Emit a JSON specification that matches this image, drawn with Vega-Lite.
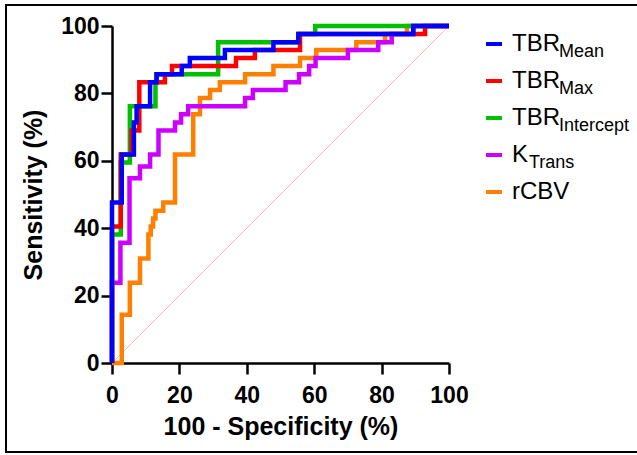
{
  "$schema": "https://vega.github.io/schema/vega-lite/v6.json",
  "width": 337,
  "height": 337,
  "autosize": "none",
  "padding": {"left": 112, "top": 26, "right": 188, "bottom": 92},
  "background": "white",
  "config": {
    "view": {"stroke": null},
    "font": "Liberation Sans",
    "axis": {
      "grid": false,
      "domainColor": "black",
      "domainWidth": 2.5,
      "tickColor": "black",
      "tickWidth": 2.5,
      "tickSize": 11,
      "labelFont": "Liberation Sans",
      "labelFontWeight": "bold",
      "labelFontSize": 23,
      "labelColor": "black",
      "labelFlush": false,
      "labelOverlap": false,
      "titleFont": "Liberation Sans",
      "titleFontWeight": "bold",
      "titleFontSize": 25,
      "titleColor": "black"
    },
    "axisX": {"labelPadding": 10, "titlePadding": 7},
    "axisY": {"labelPadding": 2, "titlePadding": 14}
  },
  "datasets": {
    "roc": [
      {"s": "TBRMean", "x": 0, "y": 0},
      {"s": "TBRMean", "x": 0, "y": 47.6},
      {"s": "TBRMean", "x": 2.9, "y": 61.9},
      {"s": "TBRMean", "x": 6.5, "y": 71.4},
      {"s": "TBRMean", "x": 7.3, "y": 76.2},
      {"s": "TBRMean", "x": 11.3, "y": 83.3},
      {"s": "TBRMean", "x": 13.2, "y": 85.7},
      {"s": "TBRMean", "x": 20.7, "y": 88.1},
      {"s": "TBRMean", "x": 23.1, "y": 90.5},
      {"s": "TBRMean", "x": 33.5, "y": 92.9},
      {"s": "TBRMean", "x": 47.9, "y": 95.2},
      {"s": "TBRMean", "x": 55.3, "y": 97.6},
      {"s": "TBRMean", "x": 89.4, "y": 100},
      {"s": "TBRMean", "x": 100, "y": 100},
      {"s": "TBRMax", "x": 0, "y": 0},
      {"s": "TBRMax", "x": 0, "y": 40.5},
      {"s": "TBRMax", "x": 2.6, "y": 61.9},
      {"s": "TBRMax", "x": 5.8, "y": 69.0},
      {"s": "TBRMax", "x": 8.1, "y": 83.3},
      {"s": "TBRMax", "x": 15.7, "y": 85.7},
      {"s": "TBRMax", "x": 17.8, "y": 88.1},
      {"s": "TBRMax", "x": 36.8, "y": 90.5},
      {"s": "TBRMax", "x": 42.4, "y": 92.9},
      {"s": "TBRMax", "x": 55.8, "y": 97.6},
      {"s": "TBRMax", "x": 92.9, "y": 100},
      {"s": "TBRMax", "x": 100, "y": 100},
      {"s": "TBRIntercept", "x": 0, "y": 0},
      {"s": "TBRIntercept", "x": 0, "y": 38.1},
      {"s": "TBRIntercept", "x": 2.6, "y": 59.5},
      {"s": "TBRIntercept", "x": 5.3, "y": 76.2},
      {"s": "TBRIntercept", "x": 12.9, "y": 83.3},
      {"s": "TBRIntercept", "x": 13.3, "y": 85.7},
      {"s": "TBRIntercept", "x": 31.5, "y": 95.2},
      {"s": "TBRIntercept", "x": 55.3, "y": 97.6},
      {"s": "TBRIntercept", "x": 60.3, "y": 100},
      {"s": "TBRIntercept", "x": 100, "y": 100},
      {"s": "KTrans", "x": 0, "y": 0},
      {"s": "KTrans", "x": 0, "y": 23.8},
      {"s": "KTrans", "x": 2.5, "y": 35.7},
      {"s": "KTrans", "x": 5.2, "y": 54.8},
      {"s": "KTrans", "x": 8.3, "y": 58.3},
      {"s": "KTrans", "x": 11.3, "y": 61.9},
      {"s": "KTrans", "x": 13.8, "y": 69.0},
      {"s": "KTrans", "x": 18.7, "y": 71.4},
      {"s": "KTrans", "x": 20.5, "y": 73.8},
      {"s": "KTrans", "x": 22.6, "y": 76.2},
      {"s": "KTrans", "x": 39.5, "y": 78.6},
      {"s": "KTrans", "x": 41.8, "y": 81.0},
      {"s": "KTrans", "x": 51.5, "y": 83.3},
      {"s": "KTrans", "x": 55.5, "y": 85.7},
      {"s": "KTrans", "x": 58.5, "y": 88.1},
      {"s": "KTrans", "x": 60.4, "y": 90.5},
      {"s": "KTrans", "x": 70.0, "y": 92.9},
      {"s": "KTrans", "x": 79.0, "y": 95.2},
      {"s": "KTrans", "x": 83.0, "y": 97.6},
      {"s": "KTrans", "x": 89.4, "y": 100},
      {"s": "KTrans", "x": 100, "y": 100},
      {"s": "rCBV", "x": 0, "y": 0},
      {"s": "rCBV", "x": 2.9, "y": 14.3},
      {"s": "rCBV", "x": 5.3, "y": 23.8},
      {"s": "rCBV", "x": 8.3, "y": 31.0},
      {"s": "rCBV", "x": 10.8, "y": 38.1},
      {"s": "rCBV", "x": 11.5, "y": 40.5},
      {"s": "rCBV", "x": 12.2, "y": 42.9},
      {"s": "rCBV", "x": 12.9, "y": 45.2},
      {"s": "rCBV", "x": 15.2, "y": 47.6},
      {"s": "rCBV", "x": 18.7, "y": 61.9},
      {"s": "rCBV", "x": 24.1, "y": 73.8},
      {"s": "rCBV", "x": 26.1, "y": 78.6},
      {"s": "rCBV", "x": 29.1, "y": 81.0},
      {"s": "rCBV", "x": 32.0, "y": 83.3},
      {"s": "rCBV", "x": 39.5, "y": 85.7},
      {"s": "rCBV", "x": 47.9, "y": 88.1},
      {"s": "rCBV", "x": 55.8, "y": 90.5},
      {"s": "rCBV", "x": 60.6, "y": 92.9},
      {"s": "rCBV", "x": 72.5, "y": 95.2},
      {"s": "rCBV", "x": 81.0, "y": 97.6},
      {"s": "rCBV", "x": 87.5, "y": 100},
      {"s": "rCBV", "x": 100, "y": 100}
    ],
    "names": [
      {"s": "TBRMean", "sub": "Mean"},
      {"s": "TBRMax", "sub": "Max"},
      {"s": "TBRIntercept", "sub": "Intercept"},
      {"s": "KTrans", "sub": "Trans"},
      {"s": "rCBV", "sub": "none"}
    ],
    "chance": [
      {"x": 0, "y": 0},
      {"x": 100, "y": 100}
    ]
  },
  "layer": [
    {
      "data": {"values": [{}]},
      "mark": {"type": "rect", "filled": false, "stroke": "black", "strokeWidth": 2},
      "encoding": {
        "x": {"datum": -31.45, "type": "quantitative", "scale": {"domain": [0, 100], "nice": false, "zero": false}, "title": "100 - Specificity (%)"},
        "x2": {"datum": 160},
        "y": {"datum": 106.2, "type": "quantitative", "scale": {"domain": [0, 100], "nice": false, "zero": false}, "title": "Sensitivity (%)"},
        "y2": {"datum": -26.4}
      }
    },
    {
      "data": {"name": "chance"},
      "mark": {"type": "line", "color": "#ffb8b8", "strokeWidth": 1},
      "encoding": {
        "x": {"field": "x", "type": "quantitative", "title": "100 - Specificity (%)"},
        "y": {"field": "y", "type": "quantitative", "title": "Sensitivity (%)"}
      }
    },
    {
      "data": {"name": "names"},
      "transform": [{"filter": "datum.s == 'KTrans'"}],
      "mark": {"type": "point", "opacity": 0},
      "encoding": {
        "shape": {
          "field": "sub", "type": "nominal",
          "legend": {"title": null, "orient": "none", "legendX": 399, "legendY": 128, "symbolSize": 256, "symbolOpacity": 0, "symbolStrokeWidth": 0, "labelFont": "Liberation Sans", "labelFontSize": 18, "labelColor": "black", "labelOffset": 0, "labelLimit": 300}
        }
      }
    },
    {
      "data": {"name": "roc"},
      "transform": [
        {"filter": "datum.s == 'rCBV'"},
        {"lookup": "s", "from": {"data": {"name": "names"}, "key": "s", "fields": ["sub"]}}
      ],
      "mark": {"type": "line", "interpolate": "step-after", "strokeWidth": 4.5, "strokeCap": "butt", "strokeJoin": "miter"},
      "encoding": {
        "x": {"field": "x", "type": "quantitative", "scale": {"domain": [0, 100], "nice": false, "zero": false}, "axis": {"values": [0, 20, 40, 60, 80, 100]}, "title": "100 - Specificity (%)"},
        "y": {"field": "y", "type": "quantitative", "scale": {"domain": [0, 100], "nice": false, "zero": false}, "axis": {"values": [0, 20, 40, 60, 80, 100]}, "title": "Sensitivity (%)"},
        "order": [{"field": "x", "type": "quantitative"}, {"field": "y", "type": "quantitative"}],
        "color": {
          "field": "s", "type": "nominal",
          "scale": {"domain": ["TBRMean", "TBRMax", "TBRIntercept", "KTrans", "rCBV"], "range": ["#0000ff", "#ff0000", "#00c000", "#cc00ff", "#ff8000"]},
          "legend": {"title": null, "orient": "none", "legendX": 370, "legendY": 6, "symbolType": "stroke", "symbolSize": 256, "symbolStrokeWidth": 4, "labelFont": "Liberation Sans", "labelFontSize": 24, "labelColor": "black", "labelOffset": 6, "rowPadding": 13, "labelLimit": 300,
            "labelExpr": "datum.label == 'KTrans' ? 'K' : (datum.label == 'rCBV' ? 'rCBV' : 'TBR')"}
        },
        "strokeDash": {
          "field": "sub", "type": "nominal",
          "scale": {"domain": ["Mean", "Max", "Intercept", "Trans", "none"], "range": [[1, 0], [1, 0], [1, 0], [1, 0], [1, 0]]},
          "legend": {"title": null, "orient": "none", "legendX": 429, "legendY": 17, "symbolType": "stroke", "symbolSize": 256, "symbolOpacity": 0, "labelFont": "Liberation Sans", "labelFontSize": 18, "labelColor": "black", "labelOffset": 0, "rowPadding": 19, "labelLimit": 300,
            "labelExpr": "(datum.label == 'none' || datum.label == 'Trans') ? '' : datum.label"}
        }
      }
    },
    {
      "data": {"name": "roc"},
      "transform": [
        {"filter": "datum.s == 'KTrans'"},
        {"lookup": "s", "from": {"data": {"name": "names"}, "key": "s", "fields": ["sub"]}}
      ],
      "mark": {"type": "line", "interpolate": "step-after", "strokeWidth": 4.5, "strokeCap": "butt", "strokeJoin": "miter"},
      "encoding": {
        "x": {"field": "x", "type": "quantitative", "title": "100 - Specificity (%)"},
        "y": {"field": "y", "type": "quantitative", "title": "Sensitivity (%)"},
        "order": [{"field": "x", "type": "quantitative"}, {"field": "y", "type": "quantitative"}],
        "color": {"field": "s", "type": "nominal"},
        "strokeDash": {"field": "sub", "type": "nominal"}
      }
    },
    {
      "data": {"name": "roc"},
      "transform": [
        {"filter": "datum.s == 'TBRIntercept'"},
        {"lookup": "s", "from": {"data": {"name": "names"}, "key": "s", "fields": ["sub"]}}
      ],
      "mark": {"type": "line", "interpolate": "step-after", "strokeWidth": 4.5, "strokeCap": "butt", "strokeJoin": "miter"},
      "encoding": {
        "x": {"field": "x", "type": "quantitative", "title": "100 - Specificity (%)"},
        "y": {"field": "y", "type": "quantitative", "title": "Sensitivity (%)"},
        "order": [{"field": "x", "type": "quantitative"}, {"field": "y", "type": "quantitative"}],
        "color": {"field": "s", "type": "nominal"},
        "strokeDash": {"field": "sub", "type": "nominal"}
      }
    },
    {
      "data": {"name": "roc"},
      "transform": [
        {"filter": "datum.s == 'TBRMax'"},
        {"lookup": "s", "from": {"data": {"name": "names"}, "key": "s", "fields": ["sub"]}}
      ],
      "mark": {"type": "line", "interpolate": "step-after", "strokeWidth": 4.5, "strokeCap": "butt", "strokeJoin": "miter"},
      "encoding": {
        "x": {"field": "x", "type": "quantitative", "title": "100 - Specificity (%)"},
        "y": {"field": "y", "type": "quantitative", "title": "Sensitivity (%)"},
        "order": [{"field": "x", "type": "quantitative"}, {"field": "y", "type": "quantitative"}],
        "color": {"field": "s", "type": "nominal"},
        "strokeDash": {"field": "sub", "type": "nominal"}
      }
    },
    {
      "data": {"name": "roc"},
      "transform": [
        {"filter": "datum.s == 'TBRMean'"},
        {"lookup": "s", "from": {"data": {"name": "names"}, "key": "s", "fields": ["sub"]}}
      ],
      "mark": {"type": "line", "interpolate": "step-after", "strokeWidth": 4.5, "strokeCap": "butt", "strokeJoin": "miter"},
      "encoding": {
        "x": {"field": "x", "type": "quantitative", "title": "100 - Specificity (%)"},
        "y": {"field": "y", "type": "quantitative", "title": "Sensitivity (%)"},
        "order": [{"field": "x", "type": "quantitative"}, {"field": "y", "type": "quantitative"}],
        "color": {"field": "s", "type": "nominal"},
        "strokeDash": {"field": "sub", "type": "nominal"}
      }
    }
  ]
}
